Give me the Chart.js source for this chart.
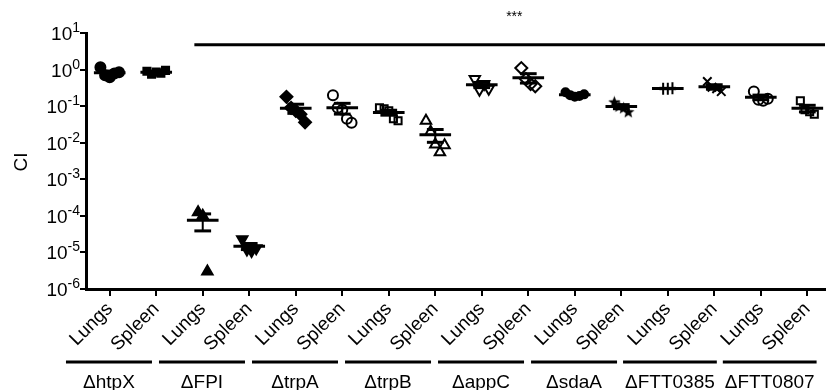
<!DOCTYPE html>
<html>
<head>
<meta charset="utf-8">
<script src="https://cdn.jsdelivr.net/npm/chart.js@4.4.0/dist/chart.umd.min.js"></script>
<style>
  body { margin: 0; background: #fff; }
  #chart { display: block; }
</style>
</head>
<body>
<canvas id="chart" width="833" height="390"></canvas>
<script>
// tissue under each tick and the strain under each pair
let categories = ['Lungs', 'Spleen', 'Lungs', 'Spleen', 'Lungs', 'Spleen', 'Lungs', 'Spleen',
    'Lungs', 'Spleen', 'Lungs', 'Spleen', 'Lungs', 'Spleen', 'Lungs', 'Spleen'];
let strains = ['\u0394htpX', '\u0394FPI', '\u0394trpA', '\u0394trpB', '\u0394appC', '\u0394sdaA', '\u0394FTT0385', '\u0394FTT0807'];

// competitive index per mouse
let htpxLungs = [1.15, 0.7, 0.62, 0.78, 0.85];
let htpxSpleen = [0.9, 0.75, 0.85, 0.8, 0.95];
let fpiLungs = [1.25e-4, 1.0e-4, 3.0e-6];
let fpiSpleen = [2.3e-5, 1.2e-5, 1.1e-5, 1.3e-5];
let trpaLungs = [0.18, 0.09, 0.075, 0.06, 0.036];
let trpaSpleen = [0.2, 0.09, 0.08, 0.045, 0.035];
let trpbLungs = [0.09, 0.085, 0.075, 0.045, 0.04];
let trpbSpleen = [0.04, 0.02, 0.009, 0.0055, 0.0085];
let appcLungs = [0.55, 0.28, 0.4, 0.3];
let appcSpleen = [1.1, 0.55, 0.4, 0.35];
let sdaaLungs = [0.24, 0.2, 0.18, 0.19, 0.21];
let sdaaSpleen = [0.13, 0.1, 0.09, 0.07];
let ftt0385Lungs = [0.3, 0.3, 0.31];
let ftt0385Spleen = [0.47, 0.33, 0.3, 0.25];
let ftt0807Lungs = [0.25, 0.15, 0.14, 0.16];
let ftt0807Spleen = [0.14, 0.08, 0.07, 0.06];

let yTicks = [1e1, 1e0, 1e-1, 1e-2, 1e-3, 1e-4, 1e-5, 1e-6];
let yExponents = ['1', '0', '-1', '-2', '-3', '-4', '-5', '-6'];
let sigLevel = 4.8;
let sigLabel = '***';

let series = [htpxLungs, htpxSpleen, fpiLungs, fpiSpleen, trpaLungs, trpaSpleen, trpbLungs, trpbSpleen,
    appcLungs, appcSpleen, sdaaLungs, sdaaSpleen, ftt0385Lungs, ftt0385Spleen, ftt0807Lungs, ftt0807Spleen];

const FONT = '"Liberation Sans", Arial, sans-serif';

function makeStar() {
    let c = document.createElement('canvas');
    c.width = 13; c.height = 13;
    let g = c.getContext('2d');
    g.beginPath();
    for (let k = 0; k < 10; k++) {
        let r = k % 2 === 0 ? 6.5 : 2.8;
        let a = -Math.PI / 2 + k * Math.PI / 5;
        g.lineTo(6.5 + r * Math.cos(a), 7 + r * Math.sin(a));
    }
    g.closePath();
    g.fillStyle = '#000';
    g.fill();
    return c;
}

// marker per column: [style, filled, rotation, radius]
let markers = [
    ['circle', true, 0, 5], ['rect', true, 0, 5], ['triangle', true, 0, 6], ['triangle', true, 180, 6],
    ['rectRot', true, 0, 6], ['circle', false, 0, 5], ['rect', false, 0, 5], ['triangle', false, 0, 6],
    ['triangle', false, 180, 6], ['rectRot', false, 0, 6], ['circle', true, 0, 4], [makeStar(), true, 0, 6],
    ['cross', false, 0, 6], ['crossRot', false, 0, 6], ['circle', false, 0, 5], ['rect', false, 0, 5]
];

let datasets = series.map((vals, i) => {
    let m = markers[i];
    return {
        data: vals.map((v, j) => ({ x: i + (j - (vals.length - 1) / 2) * 0.1, y: v })),
        pointStyle: m[0],
        pointRotation: m[2],
        pointRadius: m[3],
        pointHoverRadius: m[3],
        backgroundColor: m[1] ? '#000' : 'rgba(0,0,0,0)',
        borderColor: '#000',
        pointBorderWidth: 2,
        showLine: false
    };
});

function stats(vals) {
    let n = vals.length;
    let mean = vals.reduce((a, b) => a + b, 0) / n;
    let sd = Math.sqrt(vals.reduce((a, b) => a + (b - mean) * (b - mean), 0) / (n - 1));
    return { mean: mean, sem: sd / Math.sqrt(n) };
}

const decorations = {
    id: 'decorations',
    afterDatasetsDraw(chart) {
        let ctx = chart.ctx, xs = chart.scales.x, ys = chart.scales.y;
        ctx.save();
        ctx.strokeStyle = '#000';
        ctx.lineCap = 'butt';
        series.forEach((vals, i) => {
            let s = stats(vals);
            let cx = xs.getPixelForValue(i);
            let ym = ys.getPixelForValue(s.mean);
            let yHi = ys.getPixelForValue(s.mean + s.sem);
            let yLo = ys.getPixelForValue(Math.max(s.mean - s.sem, 1e-7));
            let half = xs.getPixelForValue(i + 0.34) - cx;
            let cap = xs.getPixelForValue(i + 0.18) - cx;
            ctx.lineWidth = 3;
            ctx.beginPath(); ctx.moveTo(cx - half, ym); ctx.lineTo(cx + half, ym); ctx.stroke();
            ctx.lineWidth = 2;
            ctx.beginPath(); ctx.moveTo(cx, yHi); ctx.lineTo(cx, yLo); ctx.stroke();
            ctx.lineWidth = 3;
            ctx.beginPath(); ctx.moveTo(cx - cap, yHi); ctx.lineTo(cx + cap, yHi); ctx.stroke();
            ctx.beginPath(); ctx.moveTo(cx - cap, yLo); ctx.lineTo(cx + cap, yLo); ctx.stroke();
        });
        ctx.restore();
    },
    afterDraw(chart) {
        let ctx = chart.ctx, xs = chart.scales.x, ys = chart.scales.y, area = chart.chartArea;
        ctx.save();
        ctx.fillStyle = '#000';
        ctx.strokeStyle = '#000';

        // y tick labels as 10 with superscript exponent
        yTicks.forEach((v, k) => {
            let y = ys.getPixelForValue(v);
            ctx.font = '14px ' + FONT;
            ctx.textAlign = 'right';
            ctx.textBaseline = 'alphabetic';
            let ew = ctx.measureText(yExponents[k]).width;
            ctx.fillText(yExponents[k], 80, y - 1);
            ctx.font = '19px ' + FONT;
            ctx.fillText('10', 80 - ew, y + 7);
        });

        // axis title
        ctx.save();
        ctx.translate(27, 162);
        ctx.rotate(-Math.PI / 2);
        ctx.font = '19px ' + FONT;
        ctx.textAlign = 'center';
        ctx.fillText('CI', 0, 0);
        ctx.restore();

        // significance bar
        let y0 = ys.getPixelForValue(sigLevel);
        ctx.lineWidth = 3;
        ctx.beginPath();
        ctx.moveTo(xs.getPixelForValue(1.82), y0);
        ctx.lineTo(area.right, y0);
        ctx.stroke();
        ctx.font = '14px ' + FONT;
        ctx.textAlign = 'center';
        ctx.fillText(sigLabel, xs.getPixelForValue(8.7), 21);

        // strain groups under the tissue labels, pushed right if they would touch
        ctx.font = '19px ' + FONT;
        ctx.textAlign = 'center';
        let lastEnd = -Infinity;
        strains.forEach((name, g) => {
            let w = Math.max(86, ctx.measureText(name).width + 4);
            let c = xs.getPixelForValue(2 * g + 0.5) - 24;
            if (c - w / 2 < lastEnd + 6) c = lastEnd + 6 + w / 2;
            lastEnd = c + w / 2;
            ctx.lineWidth = 3;
            ctx.beginPath(); ctx.moveTo(c - w / 2, 362); ctx.lineTo(c + w / 2, 362); ctx.stroke();
            ctx.fillText(name, c, 388);
        });
        ctx.restore();
    }
};

new Chart(document.getElementById('chart'), {
    type: 'scatter',
    data: { datasets: datasets },
    plugins: [decorations],
    options: {
        responsive: false,
        animation: false,
        devicePixelRatio: 1,
        layout: { padding: { top: 33, right: 0, left: 0, bottom: 0 } },
        plugins: { legend: { display: false }, tooltip: { enabled: false } },
        scales: {
            x: {
                type: 'linear',
                min: -0.51,
                max: 15.38,
                afterBuildTicks: s => { s.ticks = categories.map((c, i) => ({ value: i })); },
                afterFit: s => { s.height = 101; },
                border: { color: '#000', width: 3 },
                grid: { drawOnChartArea: false, color: '#000', lineWidth: 2, tickLength: 7 },
                ticks: {
                    autoSkip: false,
                    maxRotation: 45,
                    minRotation: 45,
                    padding: 2,
                    color: '#000',
                    font: { family: FONT, size: 19 },
                    callback: v => categories[v]
                }
            },
            y: {
                type: 'logarithmic',
                min: 1e-6,
                max: 10,
                afterBuildTicks: s => { s.ticks = yTicks.map(v => ({ value: v })); },
                afterFit: s => { s.width = 86; },
                border: { color: '#000', width: 3 },
                grid: { drawOnChartArea: false, color: '#000', lineWidth: 2, tickLength: 6 },
                ticks: { display: false }
            }
        }
    }
});
</script>
</body>
</html>
